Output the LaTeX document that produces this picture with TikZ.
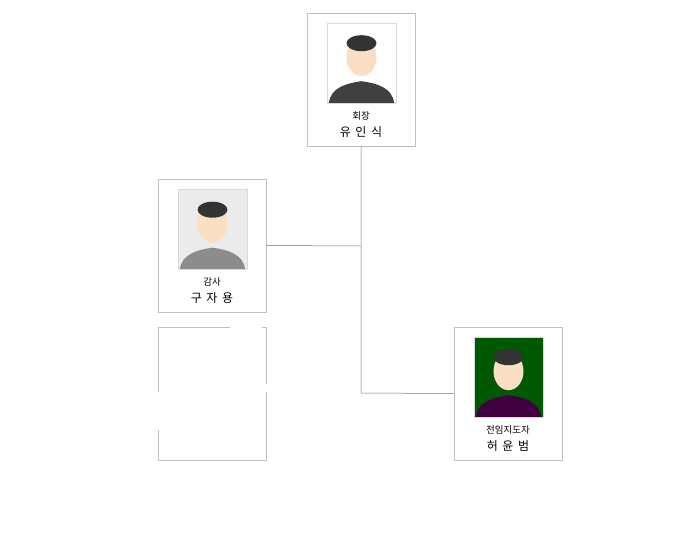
\documentclass[tikz,border=0pt]{standalone}
\usepackage{fontspec}
\newfontfamily\kr{Noto Sans CJK KR}
\usetikzlibrary{positioning}

\tikzset{
    card/.style={draw=black!25,line width=0.6pt,minimum width=108pt,minimum height=133pt,inner sep=0pt},
    photo/.style={draw=black!15,minimum width=69pt,minimum height=80pt,inner sep=0pt},
    role/.style={font=\kr\fontsize{9.5}{11}\selectfont,inner sep=0pt},
    person/.style={font=\kr\fontsize{12}{14}\selectfont,inner sep=0pt},
    link/.style={draw=black!55,line width=0.5pt}
}

\newcommand{\portrait}[3]{%
  % #1 photo node, #2 background, #3 jacket
  \fill[#2] (#1.south west) rectangle (#1.north east);
  \fill[#3] ([xshift=2pt]#1.south west) .. controls ([xshift=4pt,yshift=16pt]#1.south west) and ([xshift=20pt,yshift=20pt]#1.south west) .. ([yshift=22pt]#1.south)
        .. controls ([xshift=-20pt,yshift=20pt]#1.south east) and ([xshift=-4pt,yshift=16pt]#1.south east) .. ([xshift=-2pt]#1.south east) -- cycle;
  \fill[brown!30!orange!25] ([yshift=46pt]#1.south) ellipse (15pt and 19pt);
  \fill[black!80] ([yshift=60pt]#1.south) ellipse (15pt and 8pt);
}

\begin{document}
\begin{tikzpicture}[x=1pt,y=-1pt]
    \useasboundingbox (0,0) rectangle (700,539);
    \node[card] (chair) at (361,79.5) {};
    \node[card] (audit) at (212,245.5) {};
    \node[card] (blank) at (212,393.5) {};
    \node[card] (coach) at (508,393.5) {};
    \node[photo] (p1) at (361.5,63) {};
    \node[photo] (p2) at (212.5,229.5) {};
    \node[photo] (p3) at (508.5,377) {};
    \portrait{p1}{white}{black!75}
    \portrait{p2}{black!8}{black!45}
    \portrait{p3}{green!35!black}{violet!50!black}
    \node[photo,fill=none] at (p1) {};
    \node[photo,fill=none] at (p2) {};
    \node[photo,fill=none] at (p3) {};
    \node[role] (r1) at (361,116) {회장};
    \node[person] (n1) at (361,132) {유\,\ 인\,\ 식};
    \node[role] (r2) at (212,282) {감사};
    \node[person] (n2) at (212,298) {구\,\ 자\,\ 용};
    \node[role] (r3) at (508,430) {전임지도자};
    \node[person] (n3) at (508,446) {허\,\ 윤\,\ 범};
    % white gaps on the blank card
    \fill[white] (230,325) rectangle (262,330);
    \fill[white] (245,384) rectangle (270,392);
    \fill[white] (155,392) rectangle (162,430);
    \coordinate (j1) at (361,246);
    \coordinate (j2) at (361,393);
    \path[link] (chair.south) -- (j2) -- (coach.west);
    \path[link] (audit.east) -- (j1);
\end{tikzpicture}
\end{document}
